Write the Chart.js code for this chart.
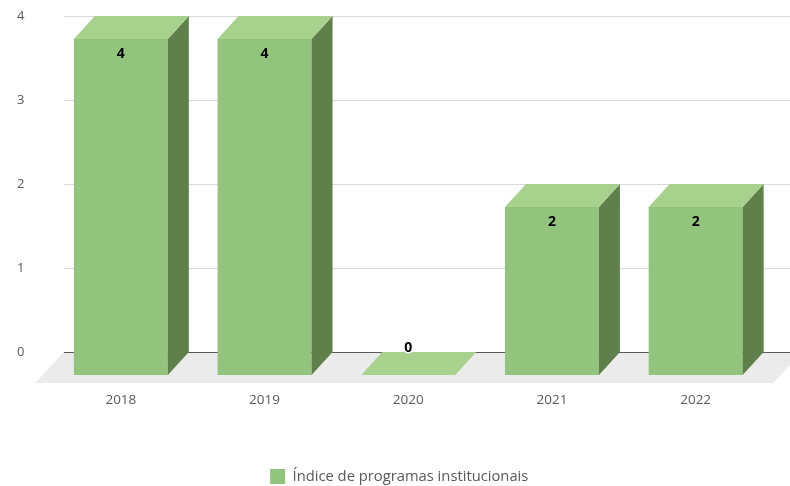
<!DOCTYPE html>
<html>
<head>
<meta charset="utf-8">
<script src="https://cdn.jsdelivr.net/npm/chart.js@4.4.1/dist/chart.umd.min.js"></script>
<style>
  html, body { margin: 0; padding: 0; background: #fff; }
  #wrap { width: 790px; height: 486px; }
</style>
</head>
<body>
<div id="wrap"><canvas id="chart" width="790" height="486"></canvas></div>
<script>
// data
const categories = ["2018", "2019", "2020", "2021", "2022"];
const values = [4, 4, 0, 2, 2];
const yTicks = [0, 1, 2, 3, 4];
const seriesName = "Índice de programas institucionais";

// 3d look
const DX = 21, DY = 23;           // bar depth
const FLOOR_DX = 29, FLOOR_DY = 31;
const GRID_LEFT = 64;

const FONT = "'Open Sans', sans-serif";

const threeD = {
  id: "threeD",
  afterLayout(chart) {
    // legend sits a bit lower than chart.js puts it
    const lg = chart.legend;
    lg.top += 8; lg.bottom += 8;
    lg.left += 7; lg.right += 7;
  },
  beforeDatasetsDraw(chart) {
    const { ctx, scales: { y } } = chart;
    const y0 = y.getPixelForValue(0);
    ctx.save();
    // floor
    ctx.fillStyle = "#ebebeb";
    ctx.beginPath();
    ctx.moveTo(GRID_LEFT, y0);
    ctx.lineTo(chart.width + 12, y0);
    ctx.lineTo(chart.width + 12 - FLOOR_DX, y0 + FLOOR_DY);
    ctx.lineTo(GRID_LEFT - FLOOR_DX, y0 + FLOOR_DY);
    ctx.closePath();
    ctx.fill();
    // gridlines on the back wall
    yTicks.forEach(v => {
      const py = Math.round(y.getPixelForValue(v)) + 0.5;
      ctx.strokeStyle = v === 0 ? "#595959" : "#d9d9d9";
      ctx.lineWidth = 1;
      ctx.beginPath();
      ctx.moveTo(GRID_LEFT, py);
      ctx.lineTo(chart.width, py);
      ctx.stroke();
    });
    ctx.restore();
    // front faces go to the front plane
    ctx.save();
    ctx.translate(0, DY);
  },
  afterDatasetsDraw(chart) {
    const { ctx } = chart;
    ctx.restore();
    const meta = chart.getDatasetMeta(0);
    ctx.save();
    meta.data.forEach((el, i) => {
      const L = el.x - el.width / 2, R = el.x + el.width / 2;
      const ft = el.y + DY, fb = el.base + DY;
      // side
      ctx.fillStyle = "#5f7f4b";
      ctx.beginPath();
      ctx.moveTo(R, ft); ctx.lineTo(R + DX, el.y);
      ctx.lineTo(R + DX, el.base); ctx.lineTo(R, fb);
      ctx.closePath(); ctx.fill();
      // top
      ctx.fillStyle = "#a9d18e";
      ctx.beginPath();
      ctx.moveTo(L, ft); ctx.lineTo(R, ft);
      ctx.lineTo(R + DX, el.y); ctx.lineTo(L + DX, el.y);
      ctx.closePath(); ctx.fill();
    });
    // value labels
    ctx.font = "bold 14px " + FONT;
    ctx.textAlign = "center";
    ctx.textBaseline = "middle";
    meta.data.forEach((el, i) => {
      const v = values[i];
      const ly = v > 0 ? el.y + DY + 15 : el.y - 4;
      if (v === 0) {
        ctx.strokeStyle = "#fff";
        ctx.lineWidth = 3;
        ctx.strokeText(String(v), el.x, ly);
      }
      ctx.fillStyle = "#000";
      ctx.fillText(String(v), el.x, ly);
    });
    ctx.restore();
  }
};

new Chart(document.getElementById("chart"), {
  type: "bar",
  data: {
    labels: categories,
    datasets: [{
      label: seriesName,
      data: values,
      backgroundColor: "#93c47d",
      borderWidth: 0,
      barPercentage: 0.654,
      categoryPercentage: 1.0
    }]
  },
  options: {
    responsive: false,
    animation: false,
    layout: { padding: { top: 16, right: 22.5, left: 17, bottom: 0 } },
    scales: {
      x: {
        grid: { display: false, drawTicks: false },
        border: { display: false },
        ticks: { color: "#595959", font: { family: FONT, size: 13.5 }, padding: 40 },
        afterFit(s) { s.height = 99; }
      },
      y: {
        min: 0, max: 4,
        grid: { display: false, drawTicks: false },
        border: { display: false },
        ticks: { stepSize: 1, color: "#595959", font: { family: FONT, size: 13 }, padding: 0, crossAlign: "far" },
        afterFit(s) { s.width = 32; }
      }
    },
    plugins: {
      legend: {
        position: "bottom",
        labels: {
          boxWidth: 15, boxHeight: 15, padding: 10,
          color: "#595959", font: { family: FONT, size: 14.75 }
        }
      },
      tooltip: { enabled: false }
    }
  },
  plugins: [threeD]
});
</script>
</body>
</html>
